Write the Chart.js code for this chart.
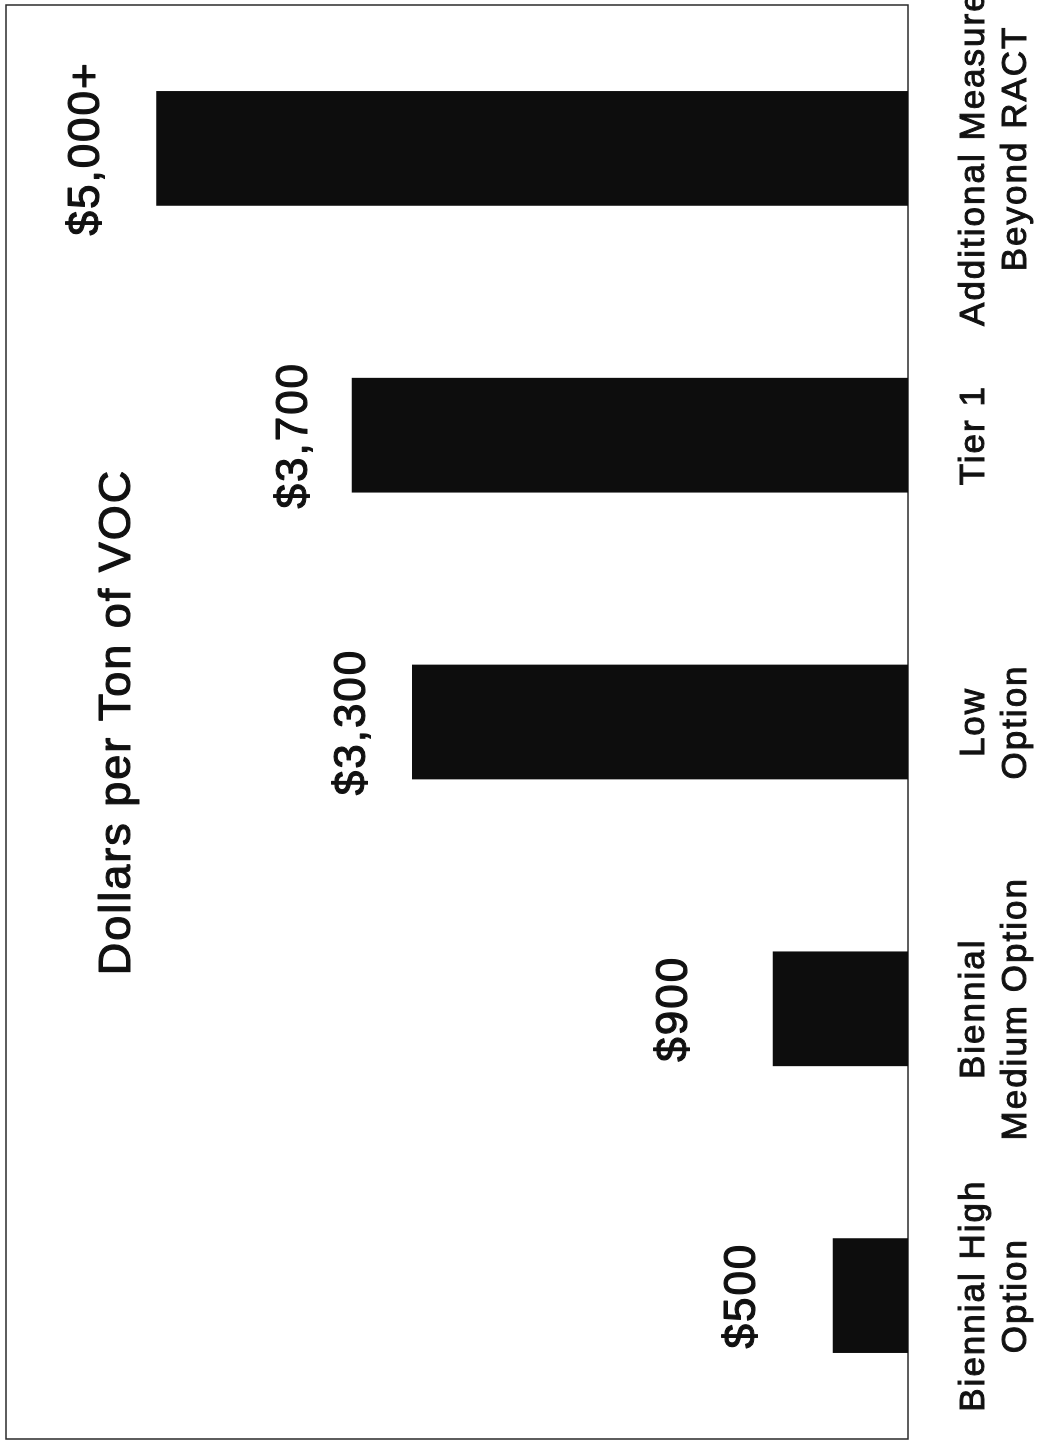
<!DOCTYPE html>
<html>
<head>
<meta charset="utf-8">
<script src="https://cdn.jsdelivr.net/npm/chart.js@4.4.1/dist/chart.umd.min.js"></script>
<style>
  html, body { margin: 0; padding: 0; background: #fff; }
  #wrap { position: relative; width: 1045px; height: 1449px; overflow: hidden; background: #fff; }
  /* the chart is laid out as an upright column chart and turned a quarter turn counter-clockwise */
  #c { position: absolute; left: 0; top: 0; transform-origin: 0 0; transform: translate(0, 1449px) rotate(-90deg); }
</style>
</head>
<body>
<div id="wrap"><canvas id="c" width="1449" height="1045"></canvas></div>
<script>
// ---- data ----
const categories = [
  ['Biennial High', 'Option'],
  ['Biennial', 'Medium Option'],
  ['Low', 'Option'],
  ['Tier 1'],
  ['Additional Measures', 'Beyond RACT']
];
const costPerTon = [500, 900, 3300, 3700, 5000];
const valueSuffix = ['', '', '', '', '+'];
const axisMin = 0;
const axisMax = 6000;
const titleText = 'Dollars per Ton of VOC';

// ---- styling ----
const FONT = "'Liberation Sans', Arial, Helvetica, sans-serif";
const INK = '#111111';
const labelGaps = [78, 86, 47, 45, 57];

function money(v, suffix) {
  return '$' + v.toLocaleString('en-US') + (suffix || '');
}

const spacingPlugin = {
  id: 'spacing',
  beforeDraw(chart) {
    chart.ctx.letterSpacing = '2px';
  }
};

const framePlugin = {
  id: 'frame',
  beforeDatasetsDraw(chart) {
    const { ctx, chartArea: a } = chart;
    ctx.save();
    ctx.strokeStyle = '#2a2a2a';
    ctx.lineWidth = 1.5;
    ctx.strokeRect(a.left, a.top, a.right - a.left, a.bottom - a.top);
    ctx.restore();
  }
};

function boldText(ctx, text, x, y) {
  ctx.fillText(text, x, y);
  ctx.strokeText(text, x, y);
}

const titlePlugin = {
  id: 'innerTitle',
  afterDraw(chart) {
    const { ctx, chartArea: a } = chart;
    ctx.save();
    ctx.letterSpacing = '2px';
    ctx.fillStyle = INK;
    ctx.strokeStyle = INK;
    ctx.lineWidth = 1.2;
    ctx.lineJoin = 'round';
    ctx.font = '45px ' + FONT;
    ctx.textAlign = 'center';
    ctx.textBaseline = 'alphabetic';
    boldText(ctx, titleText, (a.left + a.right) / 2, 130);
    ctx.restore();
  }
};

const valueLabelPlugin = {
  id: 'valueLabels',
  afterDatasetsDraw(chart) {
    const { ctx } = chart;
    const meta = chart.getDatasetMeta(0);
    ctx.save();
    ctx.letterSpacing = '2px';
    ctx.fillStyle = INK;
    ctx.strokeStyle = INK;
    ctx.lineWidth = 1.2;
    ctx.lineJoin = 'round';
    ctx.font = '44px ' + FONT;
    ctx.textAlign = 'center';
    ctx.textBaseline = 'alphabetic';
    meta.data.forEach((bar, i) => {
      const v = chart.data.datasets[0].data[i];
      boldText(ctx, money(v, valueSuffix[i]), bar.x, bar.y - labelGaps[i]);
    });
    ctx.restore();
  }
};

new Chart(document.getElementById('c'), {
  type: 'bar',
  data: {
    labels: categories,
    datasets: [{
      data: costPerTon,
      backgroundColor: '#0d0d0d',
      borderWidth: 0,
      barPercentage: 0.4,
      categoryPercentage: 1.0
    }]
  },
  options: {
    responsive: false,
    animation: false,
    devicePixelRatio: 1,
    layout: { padding: { top: 6, left: 10, right: 5, bottom: 0 } },
    plugins: {
      legend: { display: false },
      tooltip: { enabled: false },
      title: { display: false }
    },
    scales: {
      x: {
        offset: true,
        grid: { display: false, drawTicks: false },
        border: { display: false },
        ticks: {
          color: INK,
          font: { family: FONT, size: 35, lineHeight: 1.2 },
          textStrokeColor: INK,
          textStrokeWidth: 1,
          padding: 45,
          maxRotation: 0,
          minRotation: 0,
          autoSkip: false
        },
        afterFit(scale) {
          scale.height = 137;
          scale.paddingLeft = 0;
          scale.paddingRight = 0;
        }
      },
      y: {
        display: false,
        min: axisMin,
        max: axisMax
      }
    }
  },
  plugins: [spacingPlugin, framePlugin, titlePlugin, valueLabelPlugin]
});
</script>
</body>
</html>
